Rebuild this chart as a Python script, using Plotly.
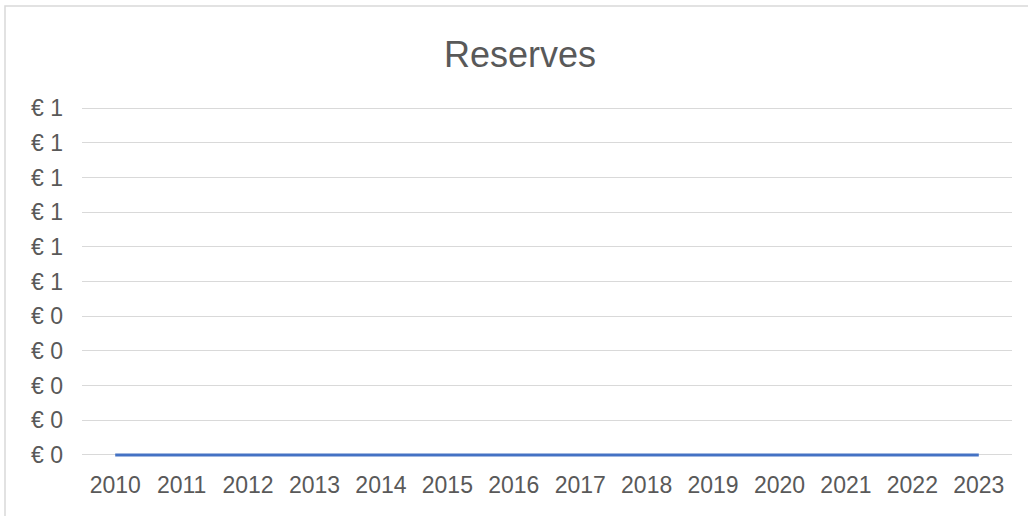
import plotly.graph_objects as go

years = [str(y) for y in range(2010, 2024)]
reserves = [0, 0, 0, 0, 0, 0, 0, 0, 0, 0, 0, 0, 0, 0]
y_ticks = [0.0, 0.1, 0.2, 0.3, 0.4, 0.5, 0.6, 0.7, 0.8, 0.9, 1.0]
y_tick_labels = ["€ 0", "€ 0", "€ 0", "€ 0", "€ 0", "€ 1", "€ 1", "€ 1", "€ 1", "€ 1", "€ 1"]

W, H = 1028, 516
L, R, T, B = 82, 16, 106, 59
pw, ph = W - L - R, H - T - B

fig = go.Figure()
fig.add_trace(go.Scatter(
    x=years, y=reserves, mode="lines",
    line=dict(color="#4472C4", width=3),
    showlegend=False, hoverinfo="x+y",
))

font = dict(family="Liberation Sans, Arial, sans-serif", color="#595959")

fig.update_layout(
    width=W, height=H,
    margin=dict(l=L, r=R, t=T, b=B, autoexpand=False),
    paper_bgcolor="white", plot_bgcolor="white",
    title=dict(text="Reserves", x=520 / W, xref="container", xanchor="center",
               y=1 - 54 / H, yanchor="middle",
               font=dict(size=36, **font)),
    xaxis=dict(
        type="category", range=[-0.5, len(years) - 0.5],
        showgrid=False, zeroline=False, showline=False, ticks="",
        tickfont=dict(size=23, **font), ticklabelstandoff=12,
        fixedrange=True,
    ),
    yaxis=dict(
        range=[-0.006, 1.006], tickvals=y_ticks, ticktext=y_tick_labels,
        showgrid=True, gridcolor="#D9D9D9", gridwidth=1,
        zeroline=False, showline=False, ticks="",
        tickfont=dict(size=23, **font), ticklabelstandoff=18,
        fixedrange=True,
    ),
    shapes=[dict(
        type="rect", xref="paper", yref="paper",
        x0=(5 - L) / pw, x1=(W + 10 - L) / pw,
        y0=-(H + 10 - T - ph) / ph, y1=(H - B - 6) / ph,
        line=dict(color="#D9D9D9", width=1.5), fillcolor="rgba(0,0,0,0)",
        layer="below",
    )],
)

fig.write_html(
    "out.html",
    config={"displayModeBar": False},
    post_script="document.body.style.margin='0';document.body.style.overflow='hidden';",
)
